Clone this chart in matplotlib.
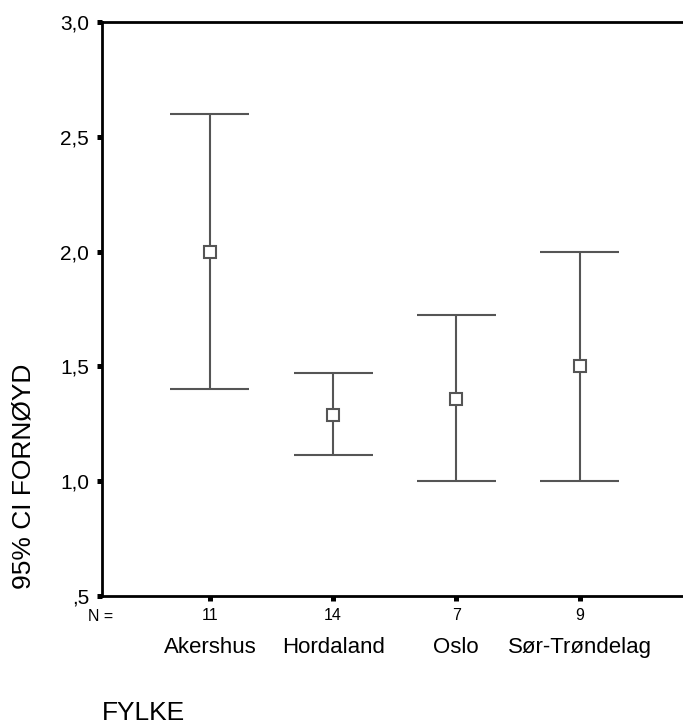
import numpy as np
import matplotlib.pyplot as plt
import matplotlib.transforms as mtransforms

plt.rcParams['font.family'] = ['Liberation Sans', 'DejaVu Sans']

fylke = ['Akershus', 'Hordaland', 'Oslo', 'Sør-Trøndelag']
n_values = [11, 14, 7, 9]
means = [2.00, 1.287, 1.356, 1.50]
lower = [1.40, 1.112, 1.00, 1.00]
upper = [2.60, 1.470, 1.722, 2.00]
yticks = [0.5, 1.0, 1.5, 2.0, 2.5, 3.0]
ytick_labels = [',5', '1,0', '1,5', '2,0', '2,5', '3,0']

col = '#555555'

fig = plt.figure(figsize=(6.83, 7.26), dpi=100)
ax = fig.add_axes([0.1493, 0.1791, 0.8507, 0.7906])

x = np.arange(1, len(fylke) + 1)
half = 0.32
ax.vlines(x, lower, upper, color=col, linewidth=1.5)
ax.hlines(lower, x - half, x + half, color=col, linewidth=1.5)
ax.hlines(upper, x - half, x + half, color=col, linewidth=1.5)
ax.plot(x, means, linestyle='none', marker='s', markersize=8.5,
        markerfacecolor='white', markeredgecolor=col, markeredgewidth=1.5, zorder=3)

ax.set_xlim(0.124, 4.84)
ax.set_ylim(0.5, 3.0)
ax.set_yticks(yticks)
ax.set_yticklabels(ytick_labels, fontsize=15)
ax.set_xticks(x)
ax.set_xticklabels([str(n) for n in n_values], fontsize=11.5)
ax.tick_params(axis='both', direction='out', length=3.8, width=3.6, color='black')
ax.tick_params(axis='x', pad=5)
ax.tick_params(axis='y', pad=5.5)

ax.spines['right'].set_visible(False)
for s in ['left', 'top', 'bottom']:
    ax.spines[s].set_linewidth(2)

trans = mtransforms.blended_transform_factory(ax.transData, ax.transAxes)
for xi, name in zip(x, fylke):
    ax.text(xi, -0.089, name, transform=trans, ha='center', va='center', fontsize=16)
ax.text(-0.003, -0.035, 'N =', transform=ax.transAxes, ha='center', va='center', fontsize=11.5)

fig.text(0.034, 0.344, '95% CI FORNØYD', rotation=90, ha='center', va='center', fontsize=19)
fig.text(0.149, 0.018, 'FYLKE', ha='left', va='center', fontsize=19)

fig.savefig('out.png', dpi=100)
